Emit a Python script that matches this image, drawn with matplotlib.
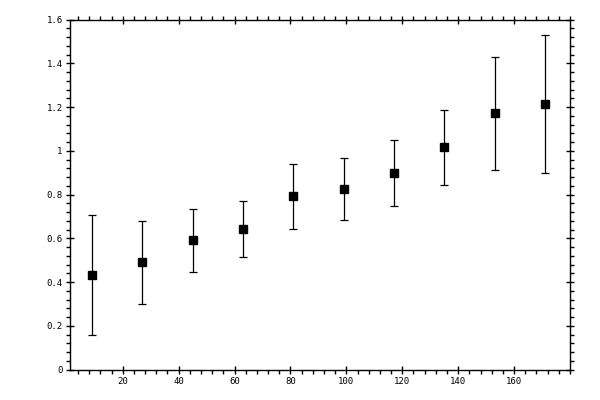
import numpy as np
import matplotlib
matplotlib.use("Agg")
import matplotlib.pyplot as plt
from matplotlib.ticker import MultipleLocator, FormatStrFormatter, FuncFormatter

# ==============================
# DATA
# ==============================

x_vals = [9, 27, 45, 63, 81, 99, 117, 135, 153, 171]
y_vals = [0.431, 0.490, 0.591, 0.641, 0.792, 0.824, 0.897, 1.016, 1.172, 1.213]
y_err = [0.275, 0.188, 0.143, 0.128, 0.147, 0.142, 0.151, 0.170, 0.259, 0.316]

x_ticks = [20, 40, 60, 80, 100, 120, 140, 160]
y_ticks = [0, 0.2, 0.4, 0.6, 0.8, 1.0, 1.2, 1.4, 1.6]

# ==============================
# FIGURE
# ==============================

fig = plt.figure(figsize=(6, 4), dpi=100)
ax = fig.add_axes([0.116, 0.076, 0.834, 0.875])

ax.errorbar(
    x_vals,
    y_vals,
    yerr=y_err,
    fmt="s",
    color="black",
    markersize=5.8,
    elinewidth=0.9,
    capsize=2.6,
    capthick=0.9,
)

ax.set_xlim(1, 180)
ax.set_ylim(0, 1.6)

ax.set_xticks(x_ticks)
ax.set_yticks(y_ticks)
ax.xaxis.set_minor_locator(MultipleLocator(4))
ax.yaxis.set_minor_locator(MultipleLocator(0.04))

ax.yaxis.set_major_formatter(FuncFormatter(lambda v, p: "%g" % round(v, 2)))

for side in ax.spines.values():
    side.set_linewidth(1.0)

ax.tick_params(which="major", direction="inout", length=6, width=1.0,
               top=True, right=True, labelsize=6.5, pad=2)
ax.tick_params(which="minor", direction="out", length=3, width=1.0,
               top=True, right=True)

for lab in ax.get_xticklabels() + ax.get_yticklabels():
    lab.set_family("DejaVu Sans Mono")

fig.savefig("out.png", dpi=100)
